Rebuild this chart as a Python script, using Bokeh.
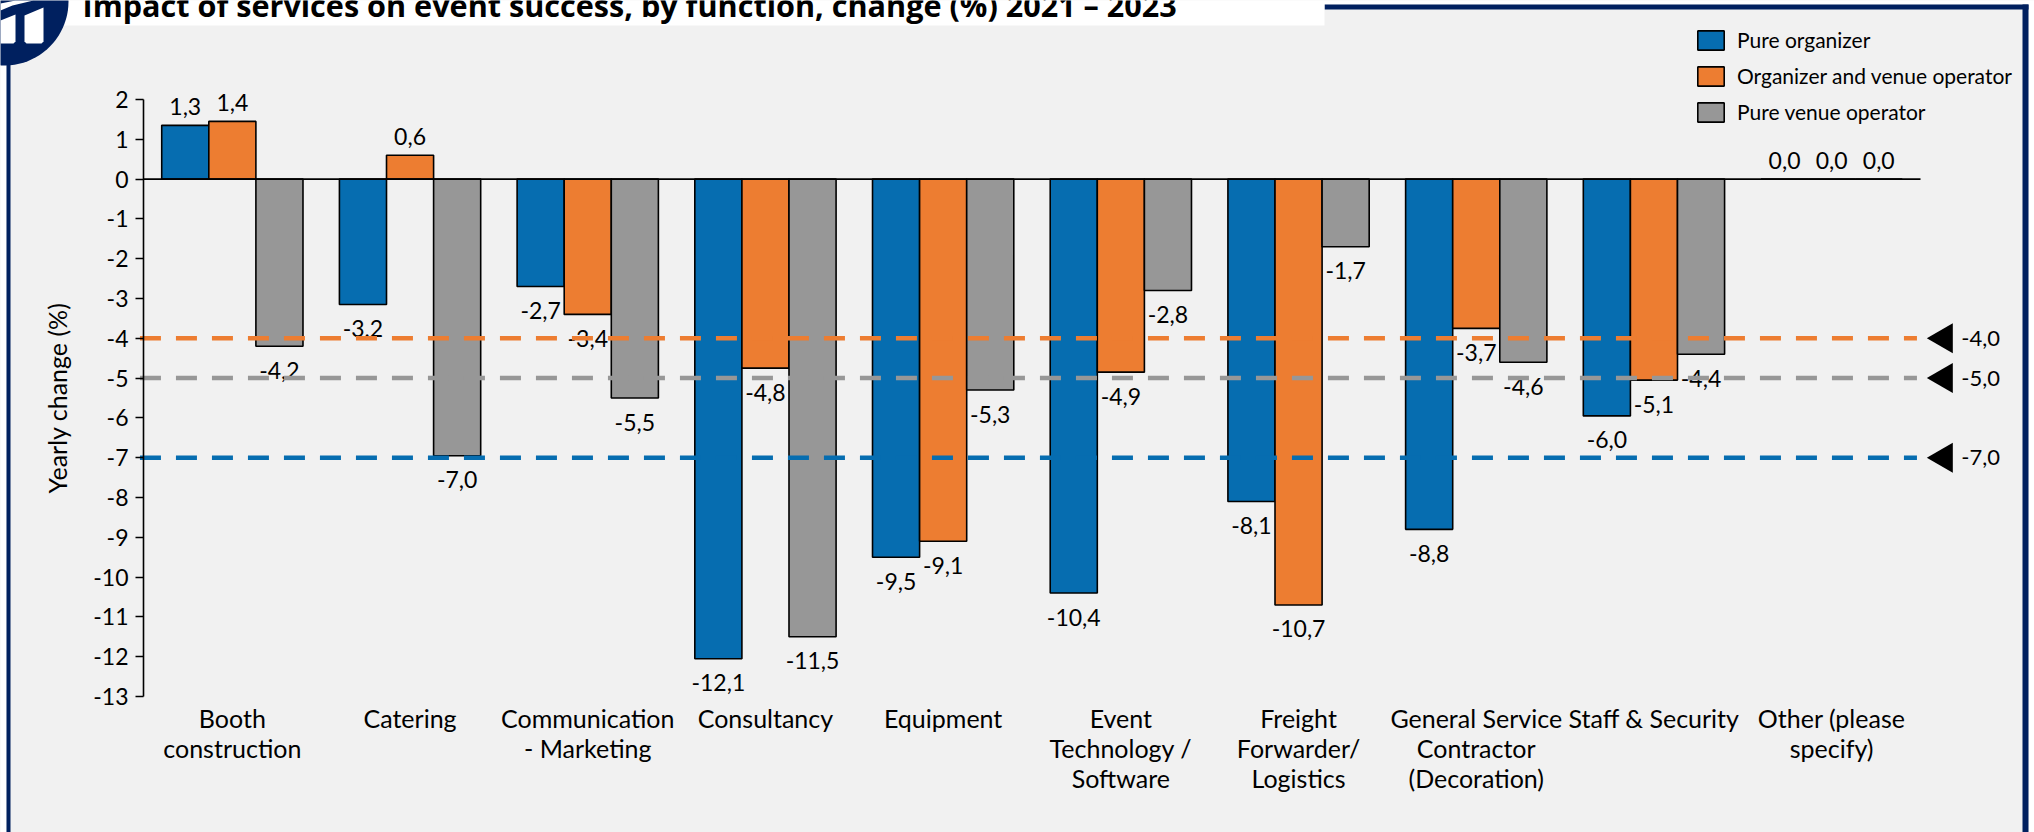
from bokeh.embed import file_html
from bokeh.resources import INLINE
from bokeh.plotting import figure
from bokeh.models import ColumnDataSource, Range1d, Legend, LegendItem, FixedTicker, LinearAxis
from bokeh.core.properties import value
import numpy as np

categories = ["Booth\nconstruction", "Catering", "Communication\n- Marketing", "Consultancy", "Equipment",
              "Event\nTechnology /\nSoftware", "Freight\nForwarder/\nLogistics",
              "General Service\nContractor\n(Decoration)", "Staff & Security", "Other (please\nspecify)"]
series_names = ["Pure organizer", "Organizer and venue operator", "Pure venue operator"]
pure_organizer = [1.35, -3.15, -2.7, -12.05, -9.5, -10.4, -8.1, -8.8, -5.95, 0.0]
organizer_venue = [1.45, 0.6, -3.4, -4.75, -9.1, -4.85, -10.7, -3.75, -5.05, 0.0]
pure_venue = [-4.2, -6.95, -5.5, -11.5, -5.3, -2.8, -1.7, -4.6, -4.4, 0.0]
labels_organizer = ["1,3", "-3,2", "-2,7", "-12,1", "-9,5", "-10,4", "-8,1", "-8,8", "-6,0", "0,0"]
labels_both = ["1,4", "0,6", "-3,4", "-4,8", "-9,1", "-4,9", "-10,7", "-3,7", "-5,1", "0,0"]
labels_venue = ["-4,2", "-7,0", "-5,5", "-11,5", "-5,3", "-2,8", "-1,7", "-4,6", "-4,4", "0,0"]
averages = [-4.0, -5.0, -7.0]
average_labels = ["-4,0", "-5,0", "-7,0"]
y_ticks = list(range(-13, 3))
title_text = "Impact of services on event success, by function, change (%) 2021 \u2013 2023"

BLUE, ORANGE, GRAY = "#066DB0", "#ED7D31", "#979797"
NAVY = "#00205F"
BG = "#F1F1F1"
FONT = "Lato"
FS = "23px"

# the plotting frame fills the page; axes are pinned inside it
X0, PXX = 143.0, 177.7
Y2, PXY = 99.0, 39.8
x_range = Range1d(-X0 / PXX, (2034 - X0) / PXX)
y_range = Range1d(2 - (832 - Y2) / PXY, 2 + Y2 / PXY)

p = figure(width=2034, height=832, output_backend="svg", toolbar_location=None,
           x_range=x_range, y_range=y_range, x_axis_type=None, y_axis_type=None,
           min_border=0, min_border_left=0, min_border_right=0, min_border_top=0, min_border_bottom=0,
           background_fill_color=BG, border_fill_color=BG, outline_line_color=None)
p.grid.visible = False
p.extra_x_ranges["px"] = Range1d(0, 2034)
p.extra_y_ranges["px"] = Range1d(832, 0)
PX = dict(x_range_name="px", y_range_name="px")

strips = [(0, 6, 0, 832, "white"), (0, 2034, 0, 4, "white"), (2028, 2034, 0, 832, "white"),
          (6, 10, 4, 832, NAVY), (1324, 2028, 4, 9, NAVY), (2022, 2028, 4, 832, NAVY), (0, 1324, 0, 25, "white")]
for l, r, t, b, c in strips:
    p.quad(left=l, right=r, top=t, bottom=b, fill_color=c, line_color=None, **PX)

th = np.linspace(0, 2 * np.pi, 90)
p.patch(4 + 64 * np.cos(th), 1 + 64 * np.sin(th), fill_color=NAVY, line_color=None, **PX)
p.patch([0, 15, 15, 13, 0], [20, 14, 41, 43, 43], fill_color="white", line_color=None, **PX)
p.patch([24, 43, 43, 41, 26, 24], [15, 7, 41, 43, 43, 41], fill_color="white", line_color=None, **PX)
p.patch([0, 15, 33, 12, 0], [3, 0, 0, 5, 10], fill_color="white", line_color=None, **PX)
p.text(x=[82], y=[4], text=[title_text], text_font=value("Open Sans"), text_font_style="bold",
       text_font_size="30.6px", text_baseline="middle", text_align="left", text_color="black", **PX)

positions = [i + 0.5 for i in range(len(categories))]
W = 0.265
def offs(vals, labs):
    return [-19 if v > 0 or l == "0,0" else 24 for v, l in zip(vals, labs)]

renderers = []
for vals, labs, shift, color in [(pure_organizer, labels_organizer, -W, BLUE),
                                 (organizer_venue, labels_both, 0, ORANGE),
                                 (pure_venue, labels_venue, W, GRAY)]:
    src = ColumnDataSource(dict(x=[q + shift for q in positions], v=vals, lab=labs, off=offs(vals, labs)))
    r = p.vbar(x="x", top="v", bottom=0, width=W, source=src, fill_color=color, line_color="black", line_width=1.6)
    renderers.append(r)
    p.text(x="x", y="v", text="lab", y_offset="off", source=src, text_align="center", text_baseline="middle",
           text_font=value(FONT), text_font_size=FS, text_color="black")

p.segment(x0=[0], x1=[10], y0=[0], y1=[0], line_color="black", line_width=1.6)
p.segment(x0=[-0.02] * 3, x1=[9.98] * 3, y0=averages, y1=averages, line_color=[ORANGE, GRAY, BLUE],
          line_width=4.5, line_dash="21 15")
p.scatter(x=[10.133] * 3, y=averages, marker="triangle", angle=np.pi / 2, size=30, fill_color="black", line_color=None)
p.text(x=[10.23] * 3, y=averages, text=average_labels, text_font=value(FONT), text_font_size="22px",
       text_baseline="middle", text_align="left", text_color="black")

yax = LinearAxis(fixed_location=0, bounds=(-13, 2), ticker=FixedTicker(ticks=y_ticks),
                 major_label_overrides={t: str(t) for t in y_ticks},
                 major_tick_in=0, major_tick_out=8, minor_tick_line_color=None,
                 axis_line_color="black", axis_line_width=1.6, major_tick_line_width=1.6,
                 major_tick_line_color="black", major_label_text_font=FONT, major_label_text_font_size=FS,
                 major_label_text_color="black", major_label_standoff=7,
                 axis_label="Yearly change (%)", axis_label_text_font=FONT, axis_label_text_font_size="25px",
                 axis_label_text_font_style="normal", axis_label_text_color="black", axis_label_standoff=18)
p.add_layout(yax, "left")

xax = LinearAxis(fixed_location=-12.8, bounds=(0, 10), ticker=FixedTicker(ticks=positions),
                 major_label_overrides=dict(zip(positions, categories)),
                 axis_line_color=None, major_tick_line_color=None, minor_tick_line_color=None,
                 major_label_text_font=FONT, major_label_text_font_size="25px", major_label_text_color="black",
                 major_label_text_line_height=1.0, major_label_standoff=8, major_label_orientation="horizontal")
p.add_layout(xax, "below")

legend = Legend(items=[LegendItem(label=n, renderers=[r]) for n, r in zip(series_names, renderers)],
                location=(1694, 708), orientation="vertical", background_fill_alpha=0, border_line_color=None,
                glyph_width=33, glyph_height=24, spacing=11, padding=0, margin=0, label_standoff=10,
                label_text_font=FONT, label_text_font_size="21px", label_text_color="black")
p.add_layout(legend, "center")

html = file_html(p, INLINE).replace("</head>", "<style>html,body{margin:0;padding:0;overflow:hidden}</style></head>")
open("out.html", "w").write(html)
